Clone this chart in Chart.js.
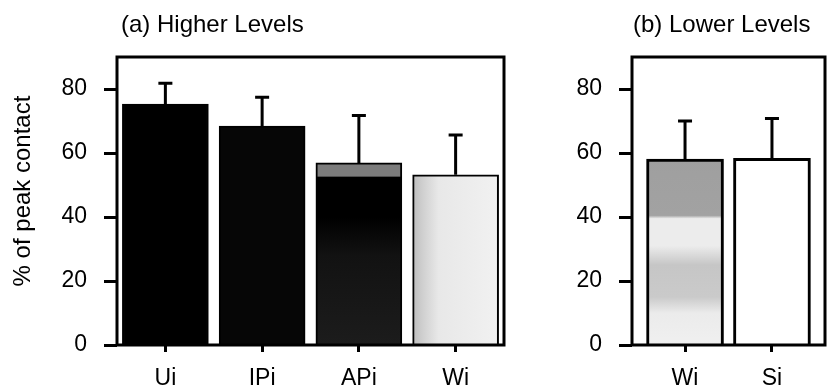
<!DOCTYPE html>
<html>
<head>
<meta charset="utf-8">
<script src="https://cdn.jsdelivr.net/npm/chart.js@4.4.1/dist/chart.umd.min.js"></script>
<style>
  html, body { margin: 0; padding: 0; background: #fff; }
  #wrap { position: relative; width: 827px; height: 392px; overflow: hidden; }
  .panel { position: absolute; top: 0; height: 392px; }
  #panelA { left: 0; width: 520px; }
  #panelB { left: 520px; width: 307px; }
</style>
</head>
<body>
<div id="wrap">
  <div class="panel" id="panelA"><canvas id="chartA"></canvas></div>
  <div class="panel" id="panelB"><canvas id="chartB"></canvas></div>
</div>
<script>
// (a) higher levels: mean and upper error (SD) in % of peak contact
var higherLabels = ['Ui', 'IPi', 'APi', 'Wi'];
var higherMeans = [75.3, 68.4, 56.9, 53.2];
var higherErrors = [6.5, 9.0, 14.8, 12.4];
// (b) lower levels
var lowerLabels = ['Wi', 'Si'];
var lowerMeans = [58.1, 58.3];
var lowerErrors = [11.9, 12.5];
// shared y axis
var yTicks = [0, 20, 40, 60, 80];
var yMax = 90;

var FONT = '"Liberation Sans", Arial, Helvetica, sans-serif';

// bar shading, roughly the halftone look of the scan
var higherFills = [
  '#000000',
  '#060606',
  { dir: 'v', stops: [[0, '#1c1c1c'], [28, '#121212'], [40, '#000000'], [52.4, '#000000'], [52.8, '#7c7c7c'], [90, '#7c7c7c']] },
  { dir: 'h', stops: [[0, '#bdbdbd'], [0.12, '#d0d0d0'], [0.3, '#e8e8e8'], [1, '#f1f1f1']] }
];
var lowerFills = [
  { dir: 'v', stops: [[0, '#f0f0f0'], [10, '#ebebeb'], [15, '#cacaca'], [25, '#c6c6c6'], [31, '#ececec'], [39.5, '#ececec'], [40.5, '#a2a2a2'], [90, '#9a9a9a']] },
  '#ffffff'
];

function barFill(fills, width) {
  return function(c) {
    var f = fills[c.dataIndex];
    if (typeof f === 'string') return f;
    var chart = c.chart;
    if (!chart.chartArea) return '#999';
    var ctx = chart.ctx, g;
    if (f.dir === 'v') {
      var y = chart.scales.y;
      var y0 = y.getPixelForValue(0), y1 = y.getPixelForValue(yMax);
      g = ctx.createLinearGradient(0, y0, 0, y1);
      f.stops.forEach(function(s) { g.addColorStop(s[0] / yMax, s[1]); });
    } else {
      var cx = chart.scales.x.getPixelForValue(c.dataIndex);
      g = ctx.createLinearGradient(cx - width / 2, 0, cx + width / 2, 0);
      f.stops.forEach(function(s) { g.addColorStop(s[0], s[1]); });
    }
    return g;
  };
}

// upward-only error bars with a cap
var errorBars = {
  id: 'errorBars',
  afterDatasetsDraw: function(chart, args, opts) {
    var ctx = chart.ctx, y = chart.scales.y;
    var meta = chart.getDatasetMeta(0);
    ctx.save();
    ctx.strokeStyle = '#000';
    ctx.lineWidth = 3;
    meta.data.forEach(function(bar, i) {
      var top = y.getPixelForValue(opts.means[i] + opts.errors[i]);
      ctx.beginPath();
      ctx.moveTo(bar.x, bar.y);
      ctx.lineTo(bar.x, top);
      ctx.moveTo(bar.x - 7, top);
      ctx.lineTo(bar.x + 7, top);
      ctx.stroke();
    });
    ctx.restore();
  }
};

// box around the plot, panel title and (panel a only) the y title
var panelFrame = {
  id: 'panelFrame',
  afterDraw: function(chart, args, opts) {
    var ctx = chart.ctx, a = chart.chartArea;
    ctx.save();
    ctx.strokeStyle = '#000';
    ctx.lineWidth = 3;
    ctx.strokeRect(a.left, a.top, a.right - a.left, a.bottom - a.top);
    ctx.fillStyle = '#000';
    ctx.font = '24px ' + FONT;
    ctx.textAlign = 'left';
    ctx.textBaseline = 'alphabetic';
    ctx.fillText(opts.title, a.left + opts.titleDx, 32);
    if (opts.yTitle) {
      ctx.translate(23, 191);
      ctx.rotate(-Math.PI / 2);
      ctx.textAlign = 'center';
      ctx.textBaseline = 'middle';
      ctx.fillText(opts.yTitle, 0, 0);
    }
    ctx.restore();
  }
};

function makePanel(id, o) {
  var points = o.means.map(function(v, i) { return { x: i, y: v }; });
  return new Chart(document.getElementById(id), {
    type: 'bar',
    plugins: [errorBars, panelFrame],
    data: {
      datasets: [{
        data: points,
        backgroundColor: barFill(o.fills, o.barWidth),
        borderColor: '#000',
        borderWidth: o.border,
        barThickness: o.barWidth
      }]
    },
    options: {
      responsive: true,
      maintainAspectRatio: false,
      animation: false,
      layout: { padding: { top: 57, right: o.padRight, left: 0, bottom: 0 } },
      plugins: {
        legend: { display: false },
        tooltip: { enabled: false },
        errorBars: { means: o.means, errors: o.errors },
        panelFrame: { title: o.title, titleDx: o.titleDx, yTitle: o.yTitle }
      },
      scales: {
        x: {
          type: 'linear',
          min: o.xMin,
          max: o.xMax,
          offset: false,
          afterBuildTicks: function(s) { s.ticks = o.labels.map(function(l, i) { return { value: i }; }); },
          afterFit: function(s) { s.height = 47; },
          ticks: {
            callback: function(v) { return o.labels[v]; },
            color: '#000',
            font: { family: FONT, size: 23 },
            padding: 13,
            maxRotation: 0,
            autoSkip: false
          },
          grid: { offset: false, drawOnChartArea: false, drawTicks: true, tickLength: 7, tickWidth: 3, tickColor: '#000' },
          border: { display: false }
        },
        y: {
          min: 0,
          max: yMax,
          afterBuildTicks: function(s) { s.ticks = yTicks.map(function(v) { return { value: v }; }); },
          afterFit: function(s) { s.width = o.yWidth; },
          ticks: { color: '#000', font: { family: FONT, size: 23 }, padding: 17 },
          grid: { drawOnChartArea: false, drawTicks: true, tickLength: 13, tickWidth: 3, tickColor: '#000' },
          border: { display: false }
        }
      }
    }
  });
}

makePanel('chartA', {
  labels: higherLabels, means: higherMeans, errors: higherErrors, fills: higherFills,
  title: '(a) Higher Levels', titleDx: 4, yTitle: '% of peak contact',
  xMin: -0.5, xMax: 3.5, barWidth: 86, border: 2, yWidth: 117, padRight: 16
});
makePanel('chartB', {
  labels: lowerLabels, means: lowerMeans, errors: lowerErrors, fills: lowerFills,
  title: '(b) Lower Levels', titleDx: 1, yTitle: null,
  xMin: -0.61, xMax: 1.61, barWidth: 77, border: 3, yWidth: 112, padRight: 2
});
</script>
</body>
</html>
